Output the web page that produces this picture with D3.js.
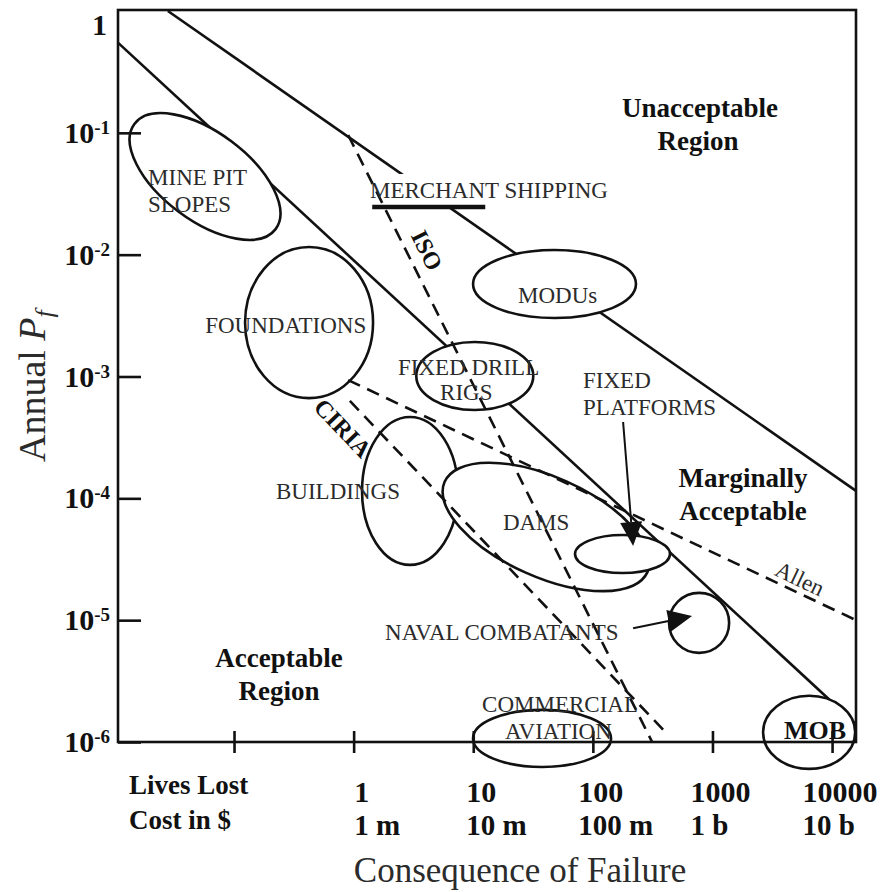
<!DOCTYPE html>
<html><head><meta charset="utf-8">
<script src="https://cdn.jsdelivr.net/npm/d3@7/dist/d3.min.js"></script>
<style>body{margin:0;background:#fff}svg{display:block}</style>
</head><body><svg id="c" width="886" height="892"></svg>
<script>
// ---------- data ----------
const xTicks=[0.1,1,10,100,1000,10000];
const xLabelsLives=["","1","10","100","1000","10000"];
const xLabelsCost=["","1 m","10 m","100 m","1 b","10 b"];
const yTicks=[1e-1,1e-2,1e-3,1e-4,1e-5,1e-6];
const yExponents=["-1","-2","-3","-4","-5","-6"];

const solidLines=[
  {name:"upper",pts:[[0.028,1],[15850,1.15e-4]]},
  {name:"lower",pts:[[0.0107,0.55],[15850,1.4e-6]]}
];
const dashedLines=[
  {name:"ISO",pts:[[0.90,0.096],[313,1e-6]]},
  {name:"Allen",pts:[[0.90,9.35e-4],[15850,1.0e-5]]},
  {name:"CIRIA",pts:[[0.93,6.3e-4],[427,1.14e-6]]}
];
const shippingBar=[[1.43,0.0246],[12.6,0.0246]];
// centre (lives, Pf), half-axes in decades, tilt in degrees
const ellipses=[
  {name:"MINE PIT SLOPES",cx:0.0572,cy:0.0438,rx:0.736,ry:0.361,rot:36.7},
  {name:"FOUNDATIONS",cx:0.424,cy:2.77e-3,rx:0.535,ry:0.62,rot:0},
  {name:"MODUs",cx:47.8,cy:5.74e-3,rx:0.681,ry:0.279,rot:0},
  {name:"FIXED DRILL RIGS",cx:10.3,cy:1.01e-3,rx:0.489,ry:0.279,rot:0},
  {name:"BUILDINGS",cx:2.96,cy:1.15e-4,rx:0.401,ry:0.607,rot:0},
  {name:"DAMS",cx:40.6,cy:5.82e-5,rx:0.928,ry:0.41,rot:24},
  {name:"FIXED PLATFORMS",cx:177,cy:3.49e-5,rx:0.397,ry:0.156,rot:0},
  {name:"NAVAL COMBATANTS",cx:773,cy:9.5e-6,rx:0.251,ry:0.246,rot:0},
  {name:"COMMERCIAL AVIATION",cx:37.6,cy:1.07e-6,rx:0.577,ry:0.234,rot:0},
  {name:"MOB",cx:6427,cy:1.2e-6,rx:0.385,ry:0.300,rot:0}
];
const arrows=[
  {name:"FIXED PLATFORMS",from:[179,4.23e-4],to:[217,4.06e-5]},
  {name:"NAVAL COMBATANTS",from:[217,8.6e-6],to:[675,1.08e-5]}
];
const itemLabels=[
  {t:"MINE PIT",x:0.0191,y:0.0373},
  {t:"SLOPES",x:0.0191,y:0.0224},
  {t:"MERCHANT SHIPPING",x:1.37,y:0.0292,bg:true},
  {t:"MODUs",x:23.7,y:4.01e-3},
  {t:"FOUNDATIONS",x:0.0574,y:2.28e-3},
  {t:"FIXED DRILL",x:2.35,y:1.03e-3},
  {t:"RIGS",x:5.28,y:6.41e-4},
  {t:"FIXED",x:82.8,y:8.05e-4},
  {t:"PLATFORMS",x:82.8,y:4.83e-4},
  {t:"BUILDINGS",x:0.2244,y:9.87e-5},
  {t:"DAMS",x:17.7,y:5.5e-5},
  {t:"NAVAL COMBATANTS",x:1.83,y:6.87e-6},
  {t:"COMMERCIAL",x:11.85,y:1.76e-6},
  {t:"AVIATION",x:18.4,y:1.06e-6},
  {t:"MOB",x:3970,y:1.06e-6,bold:true}
];
const regionLabels=[
  {t:"Unacceptable",x:787,y:0.135},{t:"Region",x:758,y:0.0723},
  {t:"Marginally",x:1803,y:1.24e-4},{t:"Acceptable",x:1803,y:6.64e-5},
  {t:"Acceptable",x:0.238,y:4.12e-6},{t:"Region",x:0.238,y:2.21e-6}
];
const lineLabels=[
  {t:"ISO",line:"ISO",x:4.12,y:0.0109,bold:true},
  {t:"CIRIA",line:"CIRIA",x:0.815,y:3.78e-4,bold:true},
  {t:"Allen",line:"Allen",x:5395,y:2.2e-5,bold:false}
];

// ---------- drawing ----------
const svg=d3.select("#c");
const L=118,R=856,T=10,B=742;
const x=d3.scaleLog().domain([Math.pow(10,-1.97),Math.pow(10,4.2)]).range([L,R]);
const y=d3.scaleLog().domain([1e-6,1]).range([B,11]);
const serif='"Liberation Serif","Times New Roman",Times,serif';
const ink="#111", txt="#2b2b2b", SW=2.6;
const line=d3.line().x(d=>x(d[0])).y(d=>y(d[1]));

svg.append("rect").attr("width",886).attr("height",892).attr("fill","#fff");
const gSolid=svg.append("g"), gBg=svg.append("g"), gBar=svg.append("g"),
      gEll=svg.append("g"), gDash=svg.append("g"), gAxis=svg.append("g"),
      gText=svg.append("g"), gArr=svg.append("g");

solidLines.forEach(l=>gSolid.append("path").attr("d",line(l.pts))
  .attr("fill","none").attr("stroke",ink).attr("stroke-width",SW));

gBar.append("path").attr("d",line(shippingBar)).attr("stroke",ink).attr("stroke-width",4.5).attr("fill","none");

ellipses.forEach(e=>{
  const cx=x(e.cx), cy=y(e.cy);
  const rx=x(e.cx*Math.pow(10,e.rx))-cx, ry=cy-y(e.cy*Math.pow(10,e.ry));
  gEll.append("ellipse").attr("cx",cx).attr("cy",cy).attr("rx",rx).attr("ry",ry)
    .attr("transform",`rotate(${e.rot},${cx},${cy})`)
    .attr("fill","#fff").attr("stroke",ink).attr("stroke-width",SW);
});

dashedLines.forEach(l=>gDash.append("path").attr("d",line(l.pts))
  .attr("fill","none").attr("stroke",ink).attr("stroke-width",SW).attr("stroke-dasharray","13,8"));

// frame
gAxis.append("rect").attr("x",L).attr("y",T).attr("width",R-L).attr("height",B-T)
  .attr("fill","none").attr("stroke",ink).attr("stroke-width",SW);
// y axis ticks (inward)
const ya=gAxis.append("g").attr("transform",`translate(${L},0)`)
  .call(d3.axisLeft(y).tickValues(yTicks).tickSizeInner(-23).tickSizeOuter(0).tickFormat(""));
ya.select(".domain").remove();
ya.selectAll("line").attr("stroke",ink).attr("stroke-width",SW);
// x axis ticks (crossing)
const xa=gAxis.append("g").attr("transform",`translate(0,${B-11})`)
  .call(d3.axisBottom(x).tickValues(xTicks).tickSizeInner(22).tickSizeOuter(0).tickFormat(""));
xa.select(".domain").remove();
xa.selectAll("line").attr("stroke",ink).attr("stroke-width",SW);

// y tick labels
yTicks.forEach((v,i)=>{
  const t=gAxis.append("text").attr("x",110).attr("y",y(v)+10).attr("text-anchor","end")
    .attr("font-family",serif).attr("font-weight","bold").attr("fill",ink);
  t.append("tspan").attr("font-size",30).text("10");
  t.append("tspan").attr("font-size",19).attr("dy",-9).text(yExponents[i]);
});
gAxis.append("text").attr("x",107).attr("y",y(1)+24).attr("text-anchor","end")
  .attr("font-family",serif).attr("font-weight","bold").attr("font-size",30).attr("fill",ink).text("1");

// x tick labels
xTicks.forEach((v,i)=>{
  if(!xLabelsLives[i]) return;
  const t1=gAxis.append("text").attr("x",x(v)+8).attr("y",B+60).attr("text-anchor","middle")
    .attr("font-family",serif).attr("font-weight","bold").attr("font-size",30).attr("fill",ink).text(xLabelsLives[i]);
  const left=t1.node().getBBox().x;
  gAxis.append("text").attr("x",left).attr("y",B+93).attr("text-anchor","start")
    .attr("font-family",serif).attr("font-weight","bold").attr("font-size",29).attr("fill",ink).text(xLabelsCost[i]);
});
gAxis.append("text").attr("x",129).attr("y",B+52).attr("font-family",serif).attr("font-weight","bold")
  .attr("font-size",27).attr("fill",ink).text("Lives Lost");
gAxis.append("text").attr("x",129).attr("y",B+87).attr("font-family",serif).attr("font-weight","bold")
  .attr("font-size",27).attr("fill",ink).text("Cost in $");

// axis titles
gAxis.append("text").attr("x",520).attr("y",882).attr("text-anchor","middle")
  .attr("font-family",serif).attr("font-size",35).attr("fill",txt).text("Consequence of Failure");
const yt=gAxis.append("text").attr("transform","translate(45,462) rotate(-90)")
  .attr("font-family",serif).attr("font-size",38).attr("fill",txt);
yt.append("tspan").text("Annual ");
yt.append("tspan").attr("font-style","italic").text("P");
yt.append("tspan").attr("font-style","italic").attr("font-size",26).attr("dy",8).text("f");

// item labels
itemLabels.forEach(d=>{
  const t=gText.append("text").attr("x",x(d.x)).attr("y",y(d.y))
    .attr("font-family",serif).attr("font-size",d.bold?26:23)
    .attr("font-weight",d.bold?"bold":"normal").attr("fill",d.bold?ink:txt).text(d.t);
  if(d.bg){
    const b=t.node().getBBox();
    gBg.append("rect").attr("x",b.x-3).attr("y",b.y-4).attr("width",b.width+6).attr("height",b.height+8).attr("fill","#fff");
  }
});
regionLabels.forEach(d=>{
  gText.append("text").attr("x",x(d.x)).attr("y",y(d.y)).attr("text-anchor","middle")
    .attr("font-family",serif).attr("font-size",27).attr("font-weight","bold").attr("fill",ink).text(d.t);
});
lineLabels.forEach(d=>{
  const l=dashedLines.find(k=>k.name===d.line).pts;
  const ang=Math.atan2(y(l[1][1])-y(l[0][1]),x(l[1][0])-x(l[0][0]))*180/Math.PI;
  const px=x(d.x), py=y(d.y);
  gText.append("text").attr("transform",`translate(${px},${py}) rotate(${ang})`)
    .attr("text-anchor","middle").attr("dy","0.35em")
    .attr("font-family",serif).attr("font-size",d.bold?24:23).attr("font-weight",d.bold?"bold":"normal")
    .attr("fill",d.bold?ink:txt).text(d.t);
});

// arrows
arrows.forEach(a=>{
  const x0=x(a.from[0]),y0=y(a.from[1]),x1=x(a.to[0]),y1=y(a.to[1]);
  const dx=x1-x0,dy=y1-y0,len=Math.hypot(dx,dy),ux=dx/len,uy=dy/len;
  const hl=24,hw=11;
  const bx=x1-ux*hl,by=y1-uy*hl;
  gArr.append("line").attr("x1",x0).attr("y1",y0).attr("x2",bx).attr("y2",by)
    .attr("stroke",ink).attr("stroke-width",2);
  gArr.append("path").attr("d",`M${x1},${y1}L${bx-uy*hw},${by+ux*hw}L${bx+uy*hw},${by-ux*hw}Z`).attr("fill",ink);
});
</script></body></html>
